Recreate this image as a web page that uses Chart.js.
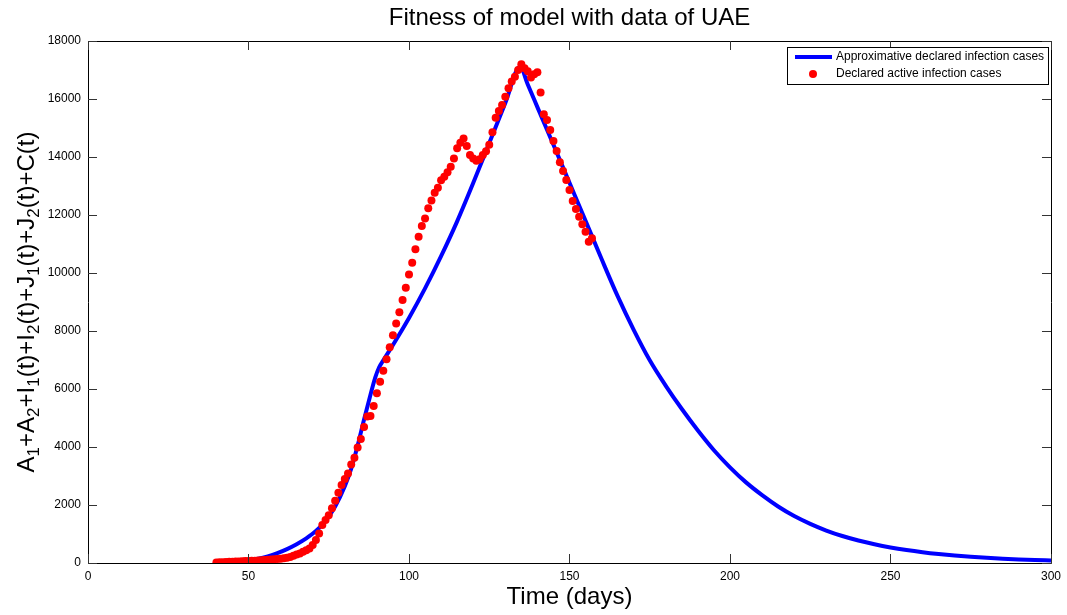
<!DOCTYPE html>
<html><head><meta charset="utf-8">
<script src="https://cdn.jsdelivr.net/npm/chart.js@4.4.1/dist/chart.umd.min.js"></script>
<style>html,body{margin:0;padding:0;background:#fff;}canvas{display:block;}</style>
</head><body>
<canvas id="c" width="1067" height="615"></canvas>
<script>
const chartTitle = 'Fitness of model with data of UAE';
const xAxisTitle = 'Time (days)';
const yAxisTitle = 'A_1+A_2+I_1(t)+I_2(t)+J_1(t)+J_2(t)+C(t)';
const modelLabel = 'Approximative declared infection cases';
const dataLabel = 'Declared active infection cases';

const xTicks = [0, 50, 100, 150, 200, 250, 300];
const yTicks = [0, 2000, 4000, 6000, 8000, 10000, 12000, 14000, 16000, 18000];

// model curve (blue)
const modelDays = [40, 43, 46, 50, 53, 56, 59, 62, 65, 68, 71, 74, 77, 80, 82, 84, 86, 88, 89.5, 90.7, 92, 95, 100, 105, 110, 115, 120, 125, 130, 134.6, 137, 140, 145, 150, 155, 160, 165, 170, 175, 180, 185, 190, 195, 200, 205, 210, 215, 220, 225, 230, 235, 240, 245, 250, 255, 260, 265, 270, 275, 280, 285, 290, 295, 300];
const modelValues = [30, 45, 65, 100, 150, 230, 340, 480, 650, 850, 1100, 1450, 1950, 2650, 3250, 4050, 4950, 5800, 6400, 6750, 6990, 7520, 8450, 9470, 10580, 11780, 13100, 14480, 15860, 17110, 16500, 15720, 14420, 13110, 11800, 10480, 9200, 8040, 6990, 6110, 5310, 4570, 3890, 3300, 2780, 2340, 1950, 1620, 1350, 1120, 930, 775, 645, 535, 445, 370, 308, 256, 213, 177, 147, 122, 102, 85];

// declared active cases (red)
const dataDays = [40, 41, 42, 43, 44, 45, 46, 47, 48, 49, 50, 51, 52, 53, 54, 55, 56, 57, 58, 59, 60, 61, 62, 63, 64, 65, 66, 67, 68, 69, 70, 71, 72, 73, 74, 75, 76, 77, 78, 79, 80, 81, 82, 83, 84, 85, 86, 87, 88, 89, 90, 91, 92, 93, 94, 95, 96, 97, 98, 99, 100, 101, 102, 103, 104, 105, 106, 107, 108, 109, 110, 111, 112, 113, 114, 115, 116, 117, 118, 119, 120, 121, 122, 123, 124, 125, 126, 127, 128, 129, 130, 131, 132, 133, 134, 135, 136, 137, 138, 139, 140, 141, 142, 143, 144, 145, 146, 147, 148, 149, 150, 151, 152, 153, 154, 155, 156, 157];
const dataValues = [20, 25, 30, 35, 40, 45, 50, 55, 60, 65, 70, 75, 80, 90, 95, 100, 110, 120, 130, 140, 150, 160, 180, 210, 250, 290, 330, 390, 440, 500, 620, 790, 1020, 1310, 1480, 1650, 1890, 2150, 2420, 2690, 2900, 3090, 3400, 3630, 3980, 4280, 4690, 5050, 5070, 5410, 5850, 6250, 6630, 7030, 7440, 7850, 8260, 8650, 9070, 9490, 9950, 10350, 10820, 11250, 11620, 11880, 12230, 12500, 12770, 12940, 13200, 13320, 13470, 13660, 13950, 14300, 14490, 14640, 14380, 14070, 13950, 13870, 13920, 14070, 14200, 14420, 14850, 15350, 15590, 15790, 16080, 16370, 16600, 16770, 17000, 17200, 17060, 16960, 16740, 16850, 16920, 16220, 15470, 15280, 14930, 14550, 14210, 13820, 13520, 13210, 12860, 12480, 12210, 11940, 11680, 11420, 11080, 11200];

const FONT = "'Liberation Sans', Arial, Helvetica, sans-serif";

const framePlugin = {
  id: 'frame',
  afterDraw(chart) {
    const ctx = chart.ctx;
    const a = chart.chartArea;
    const xs = chart.scales.x, ys = chart.scales.y;
    ctx.save();
    // title centred over the plot area
    ctx.fillStyle = '#000';
    ctx.font = '24px ' + FONT;
    ctx.textAlign = 'center';
    ctx.textBaseline = 'middle';
    ctx.fillText(chartTitle, (a.left + a.right) / 2, 18);

    // box
    ctx.strokeStyle = '#000';
    ctx.lineWidth = 1;
    ctx.beginPath();
    ctx.rect(Math.round(a.left) + 0.5, Math.round(a.top) + 0.5, Math.round(a.right - a.left), Math.round(a.bottom - a.top));
    ctx.stroke();
    // inward ticks
    const TL = 9;
    ctx.strokeStyle = '#333';
    ctx.beginPath();
    xTicks.forEach(v => {
      const px = Math.round(xs.getPixelForValue(v)) + 0.5;
      ctx.moveTo(px, a.bottom); ctx.lineTo(px, a.bottom - TL);
      ctx.moveTo(px, a.top); ctx.lineTo(px, a.top + TL);
    });
    yTicks.forEach(v => {
      const py = Math.round(ys.getPixelForValue(v)) + 0.5;
      ctx.moveTo(a.left, py); ctx.lineTo(a.left + TL, py);
      ctx.moveTo(a.right, py); ctx.lineTo(a.right - TL, py);
    });
    ctx.stroke();

    // y axis title with subscripts
    const parts = [];
    for (let i = 0; i < yAxisTitle.length; i++) {
      if (yAxisTitle[i] === '_') { parts.push({t: yAxisTitle[i + 1], sub: true}); i++; }
      else parts.push({t: yAxisTitle[i], sub: false});
    }
    const bigF = '24px ' + FONT, smallF = '17px ' + FONT;
    let total = 0;
    parts.forEach(p => { ctx.font = p.sub ? smallF : bigF; p.w = ctx.measureText(p.t).width; total += p.w; });
    const cy = (a.top + a.bottom) / 2;
    ctx.translate(34, cy);
    ctx.rotate(-Math.PI / 2);
    ctx.fillStyle = '#000';
    ctx.textBaseline = 'alphabetic';
    ctx.textAlign = 'left';
    let x = -total / 2;
    parts.forEach(p => {
      ctx.font = p.sub ? smallF : bigF;
      ctx.fillText(p.t, x, p.sub ? 5 : 0);
      x += p.w;
    });
    ctx.setTransform(1, 0, 0, 1, 0, 0);

    // legend
    const L = 787, T = 47, R = 1048, B = 84;
    ctx.fillStyle = '#fff';
    ctx.fillRect(L, T, R - L, B - T);
    ctx.strokeStyle = '#000';
    ctx.lineWidth = 1;
    ctx.strokeRect(L + 0.5, T + 0.5, R - L, B - T);
    ctx.strokeStyle = '#0000FF';
    ctx.lineWidth = 4;
    ctx.beginPath(); ctx.moveTo(795, 57); ctx.lineTo(832, 57); ctx.stroke();
    ctx.fillStyle = '#FF0000';
    ctx.beginPath(); ctx.arc(813, 74, 4, 0, Math.PI * 2); ctx.fill();
    ctx.fillStyle = '#000';
    ctx.font = '12px ' + FONT;
    ctx.textAlign = 'left';
    ctx.textBaseline = 'middle';
    ctx.fillText(modelLabel, 836, 57);
    ctx.fillText(dataLabel, 836, 74);
    ctx.restore();
  }
};

new Chart(document.getElementById('c'), {
  type: 'scatter',
  data: {
    datasets: [
      {
        label: modelLabel,
        data: modelDays.map((d, i) => ({x: d, y: modelValues[i]})),
        showLine: true,
        borderColor: '#0000FF',
        backgroundColor: '#0000FF',
        borderWidth: 4,
        pointRadius: 0,
        cubicInterpolationMode: 'monotone',
        order: 2
      },
      {
        label: dataLabel,
        data: dataDays.map((d, i) => ({x: d, y: dataValues[i]})),
        showLine: false,
        backgroundColor: '#FF0000',
        borderColor: '#FF0000',
        borderWidth: 0,
        pointRadius: 4,
        order: 1
      }
    ]
  },
  options: {
    responsive: false,
    devicePixelRatio: 1,
    animation: false,
    layout: {padding: {top: 41, right: 12, bottom: 0, left: 0}},
    plugins: {
      legend: {display: false},
      tooltip: {enabled: false},
      title: {display: false}
    },
    scales: {
      x: {
        type: 'linear', min: 0, max: 300,
        afterFit(s) { s.height = 52; },
        afterBuildTicks(s) { s.ticks = xTicks.map(v => ({value: v})); },
        grid: {display: false, drawTicks: false},
        border: {display: false},
        ticks: {color: '#000', font: {family: FONT, size: 12}, padding: 6, maxRotation: 0, callback: v => String(v)},
        title: {display: true, text: xAxisTitle, color: '#000', font: {family: FONT, size: 24}, padding: {top: 0, bottom: 3}}
      },
      y: {
        type: 'linear', min: 0, max: 18000,
        afterFit(s) { s.width = 88; },
        afterBuildTicks(s) { s.ticks = yTicks.map(v => ({value: v})); },
        grid: {display: false, drawTicks: false},
        border: {display: false},
        ticks: {color: '#000', font: {family: FONT, size: 12}, padding: 7, callback: v => String(v)}
      }
    }
  },
  plugins: [framePlugin]
});
</script>
</body></html>
